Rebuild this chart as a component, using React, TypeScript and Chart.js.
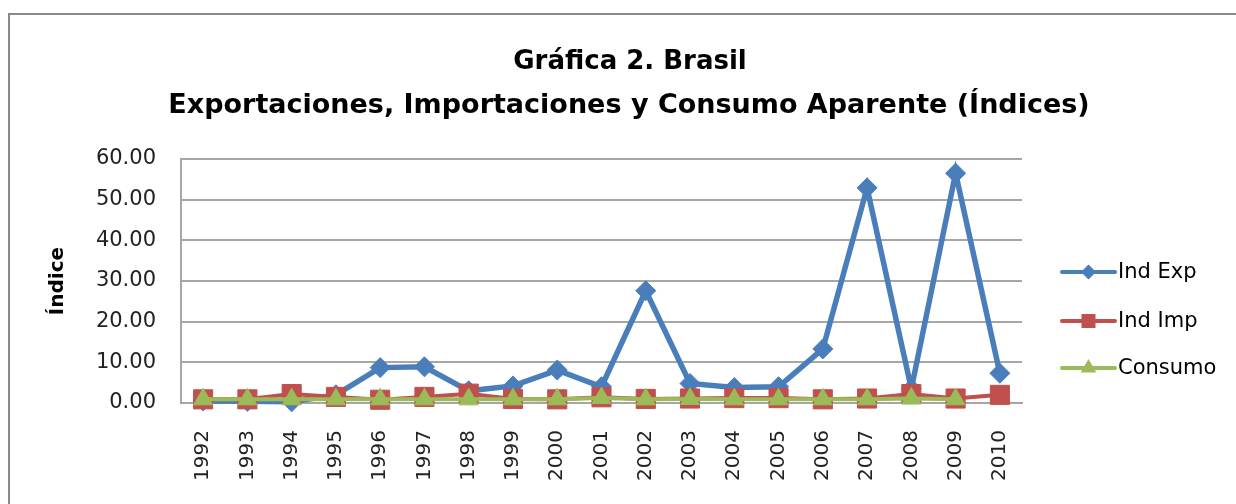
import React, { useEffect, useRef } from 'react';
import { Chart, registerables } from 'chart.js';

Chart.register(...registerables);

const years = ['1992', '1993', '1994', '1995', '1996', '1997', '1998', '1999', '2000', '2001', '2002', '2003', '2004', '2005', '2006', '2007', '2008', '2009', '2010'];
const indExp = [0.5, 0.4, 0.3, 2.0, 8.7, 8.9, 3.0, 4.2, 8.1, 4.0, 27.6, 4.8, 3.8, 4.0, 13.3, 52.9, 3.5, 56.5, 7.3];
const indImp = [0.9, 0.9, 2.2, 1.5, 0.8, 1.5, 2.3, 1.0, 0.9, 1.4, 1.0, 1.1, 1.2, 1.2, 0.9, 1.1, 2.2, 1.1, 2.0];
const consumo = [0.9, 0.9, 0.9, 0.9, 0.9, 0.9, 0.9, 0.9, 0.9, 1.2, 0.9, 1.0, 0.9, 0.9, 0.9, 0.9, 1.1, 0.9, null];
const seriesNames = ['Ind Exp', 'Ind Imp', 'Consumo'];
const seriesColors = ['#4A7EBB', '#C0504D', '#9BBB59'];
const titleLines = ['Gráfica 2. Brasil', 'Exportaciones, Importaciones y Consumo Aparente (Índices)'];
const yAxisTitle = 'Índice';
const yMin = 0;
const yMax = 60;
const yStep = 10;

function drawMarker(ctx: CanvasRenderingContext2D, shape: string, x: number, y: number, r: number) {
  ctx.beginPath();
  if (shape === 'rectRot') {
    ctx.moveTo(x - r, y);
    ctx.lineTo(x, y - r);
    ctx.lineTo(x + r, y);
    ctx.lineTo(x, y + r);
  } else if (shape === 'rect') {
    ctx.rect(x - r, y - r, 2 * r, 2 * r);
  } else {
    ctx.moveTo(x, y - r);
    ctx.lineTo(x + r * 0.866, y + r * 0.5);
    ctx.lineTo(x - r * 0.866, y + r * 0.5);
  }
  ctx.closePath();
  ctx.fill();
}

const decorPlugin = {
  id: 'decor',
  beforeDraw(chart: any) {
    const ctx: CanvasRenderingContext2D = chart.ctx;
    ctx.save();
    ctx.fillStyle = '#ffffff';
    ctx.fillRect(0, 0, chart.width, chart.height);
    ctx.strokeStyle = '#8a8a8a';
    ctx.lineWidth = 2;
    ctx.beginPath();
    ctx.moveTo(9, chart.height);
    ctx.lineTo(9, 14);
    ctx.lineTo(chart.width, 14);
    ctx.stroke();
    ctx.restore();
  },
  afterDraw(chart: any) {
    const ctx: CanvasRenderingContext2D = chart.ctx;
    ctx.save();
    // Title
    ctx.fillStyle = '#000000';
    ctx.textAlign = 'center';
    ctx.textBaseline = 'alphabetic';
    ctx.font = 'bold 26px "DejaVu Sans"';
    ctx.fillText(titleLines[0], 630, 69);
    ctx.font = 'bold 27px "DejaVu Sans"';
    ctx.fillText(titleLines[1], 629, 113);
    // Legend
    const rows = [272, 321, 368];
    const shapes = ['rectRot', 'rect', 'triangle'];
    const radii = [7.5, 7, 9];
    ctx.font = '21px "DejaVu Sans"';
    ctx.textAlign = 'left';
    ctx.textBaseline = 'middle';
    chart.data.datasets.forEach((ds: any, i: number) => {
      const y = rows[i];
      ctx.strokeStyle = ds.borderColor;
      ctx.lineWidth = 4;
      ctx.lineCap = 'round';
      ctx.beginPath();
      ctx.moveTo(1062, y);
      ctx.lineTo(1115, y);
      ctx.stroke();
      ctx.fillStyle = ds.borderColor;
      drawMarker(ctx, shapes[i], 1088.5, y, radii[i]);
      ctx.fillStyle = '#000000';
      ctx.fillText(ds.label, 1118, y + 1);
    });
    ctx.restore();
  },
};

export default function App() {
  const canvasRef = useRef<HTMLCanvasElement | null>(null);

  useEffect(() => {
    document.body.style.margin = '0';
    const canvas = canvasRef.current;
    if (!canvas) return;
    const gridColor = '#a6a6a6';
    const chart = new Chart(canvas, {
      type: 'line',
      data: {
        labels: years,
        datasets: [
          {
            label: seriesNames[0],
            data: indExp,
            borderColor: seriesColors[0],
            backgroundColor: seriesColors[0],
            borderWidth: 5.5,
            pointStyle: 'rectRot',
            pointRadius: 10,
            pointBorderWidth: 1,
            order: 2,
            clip: false,
          },
          {
            label: seriesNames[1],
            data: indImp,
            borderColor: seriesColors[1],
            backgroundColor: seriesColors[1],
            borderWidth: 4,
            pointStyle: 'rect',
            pointRadius: 13.5,
            pointBorderWidth: 1,
            order: 1,
            clip: false,
          },
          {
            label: seriesNames[2],
            data: consumo,
            borderColor: seriesColors[2],
            backgroundColor: seriesColors[2],
            borderWidth: 4,
            pointStyle: 'triangle',
            pointRadius: 11,
            pointBorderWidth: 1,
            order: 0,
            clip: false,
          },
        ],
      },
      options: {
        responsive: false,
        animation: false,
        devicePixelRatio: 1,
        layout: { padding: { top: 159, right: 214, bottom: 0, left: 0 } },
        plugins: {
          legend: { display: false },
          title: { display: false },
          tooltip: { enabled: false },
        },
        scales: {
          x: {
            offset: true,
            grid: { display: false, drawTicks: false },
            border: { display: true, color: gridColor, width: 2 },
            ticks: {
              minRotation: 90,
              maxRotation: 90,
              autoSkip: false,
              padding: 27,
              color: '#222222',
              font: { family: '"DejaVu Sans"', size: 20 },
            },
            afterFit(scale: any) {
              scale.height = 101;
            },
          },
          y: {
            min: yMin,
            max: yMax,
            grid: { color: gridColor, lineWidth: 2, drawTicks: false },
            border: { display: true, color: gridColor, width: 2 },
            ticks: {
              stepSize: yStep,
              padding: 25,
              color: '#222222',
              font: { family: '"DejaVu Sans"', size: 21 },
              callback: (v: any) => Number(v).toFixed(2),
            },
            title: {
              display: true,
              text: yAxisTitle,
              color: '#000000',
              font: { family: '"DejaVu Sans"', size: 20, weight: 'bold' },
              padding: { top: 46, bottom: 0 },
            },
            afterFit(scale: any) {
              scale.width = 181;
            },
          },
        },
      },
      plugins: [decorPlugin],
    });
    return () => chart.destroy();
  }, []);

  return (
    <div style={{ width: 1236, height: 504, background: '#ffffff' }}>
      <canvas ref={canvasRef} width={1236} height={504} style={{ display: 'block' }} />
    </div>
  );
}
